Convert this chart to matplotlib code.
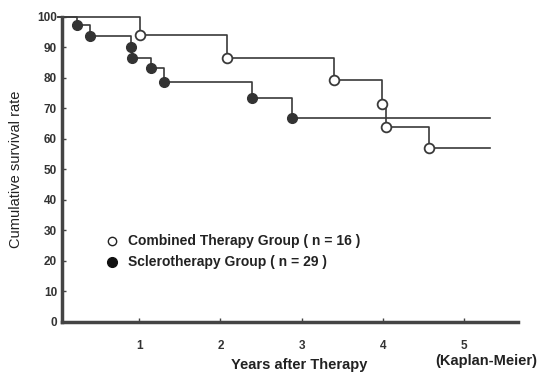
import matplotlib.pyplot as plt

# ====== data ======
comb_years = [0, 1.01, 2.08, 3.40, 3.99, 4.04, 4.56, 5.32]
comb_rate = [100, 94.0, 86.5, 79.3, 71.4, 63.8, 56.9, 56.9]

scl_years = [0, 0.24, 0.39, 0.90, 0.91, 1.14, 1.31, 2.39, 2.88, 5.32]
scl_rate = [100, 97.4, 93.6, 90.1, 86.5, 83.2, 78.6, 73.4, 66.8, 66.8]

x_ticks = [1, 2, 3, 4, 5]
y_ticks = list(range(0, 101, 10))

line_col = "#3a3a3a"
plt.rcParams["font.family"] = ["Liberation Sans", "DejaVu Sans"]

fig = plt.figure(figsize=(5.39, 3.76), dpi=100)
ax = fig.add_axes([0.115, 0.144, 0.846, 0.811])

# ====== 生存曲線 ======
ax.step(comb_years, comb_rate, where="post", color=line_col, linewidth=1.2,
        clip_on=False)
ax.plot(comb_years[1:-1], comb_rate[1:-1], "o", markersize=7,
        markerfacecolor="white", markeredgecolor=line_col, markeredgewidth=1.3)

ax.step(scl_years, scl_rate, where="post", color=line_col, linewidth=1.2,
        clip_on=False)
ax.plot(scl_years[1:-1], scl_rate[1:-1], "o", markersize=7,
        markerfacecolor="#333333", markeredgecolor="#333333")

# ====== 凡例 ======
ax.plot([0.67], [26.5], "o", markersize=6, markerfacecolor="white",
        markeredgecolor="#222222", markeredgewidth=1.0)
ax.plot([0.67], [19.5], "o", markersize=7, color="#111111")
ax.text(0.86, 26.5, "Combined Therapy Group ( n = 16 )", fontsize=10,
        fontweight="bold", va="center", color="#222222")
ax.text(0.86, 19.5, "Sclerotherapy Group ( n = 29 )", fontsize=10,
        fontweight="bold", va="center", color="#222222")

# ====== 軸 ======
ax.set_xlim(0.05, 5.66)
ax.set_ylim(0, 100)
ax.set_xticks(x_ticks)
ax.set_yticks(y_ticks)
ax.tick_params(direction="in", length=3, width=1, colors="#444444",
               labelsize=8.5, labelcolor="#333333")
ax.tick_params(axis="x", pad=13)
for lab in ax.get_xticklabels() + ax.get_yticklabels():
    lab.set_fontweight("bold")
for s in ["top", "right"]:
    ax.spines[s].set_visible(False)
for s in ["left", "bottom"]:
    ax.spines[s].set_linewidth(2.5)
    ax.spines[s].set_color("#444444")

ax.set_ylabel("Cumulative survival rate", fontsize=10.5, color="#222222",
              labelpad=10)
fig.text(0.555, 0.01, "Years after Therapy", fontsize=10.5, ha="center",
         va="bottom", color="#222222", fontweight="bold")
fig.text(0.997, 0.02, "(Kaplan-Meier)", fontsize=10.5, ha="right",
         va="bottom", color="#222222", fontweight="bold")

fig.savefig("out.png", dpi=100)
